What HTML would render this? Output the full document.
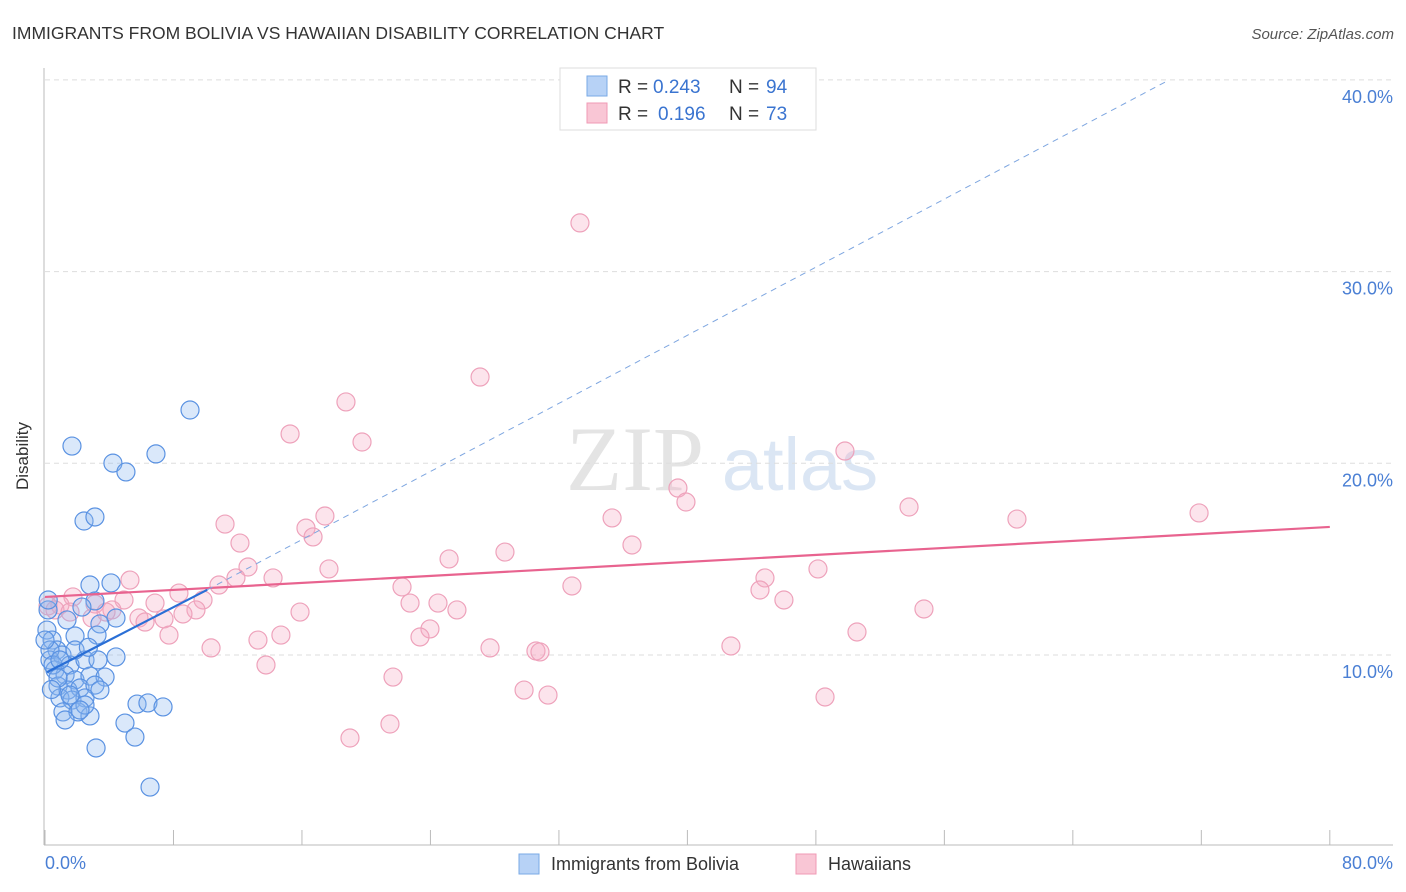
<!DOCTYPE html>
<html><head><meta charset="utf-8">
<style>
body{margin:0;background:#fff;font-family:"Liberation Sans",sans-serif;}
#wrap{position:relative;width:1406px;height:892px;overflow:hidden;}
</style></head>
<body>
<div id="wrap">
<svg id="chart" width="1406" height="892">
  <text x="12" y="39" font-size="17.5" fill="#333">IMMIGRANTS FROM BOLIVIA VS HAWAIIAN DISABILITY CORRELATION CHART</text>
  <text x="1394" y="39" font-size="15" fill="#555" font-style="italic" text-anchor="end">Source: ZipAtlas.com</text>
  <g>
    <text x="635" y="490" font-size="92" font-family="Liberation Serif,serif" fill="#e4e4e4" text-anchor="middle">ZIP</text>
    <text x="800" y="490" font-size="74" fill="#dbe6f4" text-anchor="middle">atlas</text>
  </g>
  <g id="grid"></g>
  <line x1="44" y1="68" x2="44" y2="845" stroke="#bbb"/>
  <line x1="44" y1="845" x2="1393" y2="845" stroke="#bbb"/>
  <g id="xticks"></g>
  <text x="28" y="456" font-size="17" fill="#333" text-anchor="middle" transform="rotate(-90 28 456)">Disability</text>
  <text x="45" y="869" font-size="18" fill="#4a7fd4">0.0%</text>
  <text x="1393" y="869" font-size="18" fill="#4a7fd4" text-anchor="end">80.0%</text>
  <g id="pink"></g>
  <g id="blue"></g>
  <g id="lines"></g>
  <g font-size="19">
    <rect x="560" y="68" width="256" height="62" fill="#fff" stroke="#ddd"/>
    <rect x="587" y="76" width="20" height="20" fill="#b7d2f6" stroke="#7aaae6"/>
    <rect x="587" y="103" width="20" height="20" fill="#f9c6d5" stroke="#f09ab5"/>
    <text x="618" y="93" fill="#333">R =</text>
    <text x="653" y="93" fill="#3a74d0">0.243</text>
    <text x="729" y="93" fill="#333">N =</text>
    <text x="766" y="93" fill="#3a74d0">94</text>
    <text x="618" y="120" fill="#333">R =</text>
    <text x="658" y="120" fill="#3a74d0">0.196</text>
    <text x="729" y="120" fill="#333">N =</text>
    <text x="766" y="120" fill="#3a74d0">73</text>
  </g>
  <g>
    <rect x="519" y="854" width="20" height="20" fill="#b7d2f6" stroke="#7aaae6"/>
    <text x="551" y="870" font-size="18" fill="#333">Immigrants from Bolivia</text>
    <rect x="796" y="854" width="20" height="20" fill="#f9c6d5" stroke="#f09ab5"/>
    <text x="828" y="870" font-size="18" fill="#333">Hawaiians</text>
  </g>
</svg>
</div>
<script>
const yTicks=[10,20,30,40];
const yTickLabels=["10.0%","20.0%","30.0%","40.0%"];
const xTicks=[0,8,16,24,32,40,48,56,64,72,80];
const blueX=[9.03,1.68,4.23,5.04,6.91,2.43,3.11,2.80,4.11,3.11,2.30,4.42,1.37,3.42,1.87,3.24,0.12,0.44,0.75,0.31,1.06,1.56,2.49,3.30,4.42,0.62,1.25,1.87,2.80,3.74,0.81,1.43,2.18,3.11,0.93,1.68,2.49,1.12,2.05,2.80,1.25,4.98,5.73,6.41,7.35,5.60,3.18,6.54,0.19,0.31,0.5,0.81,1.56,2.49,0,2.18,3.42,0.93,1.87,0.2,0.4,2.7];
const blueY=[22.78,20.90,20.01,19.55,20.49,16.99,17.20,13.65,13.76,12.82,12.50,11.93,11.83,11.62,10.99,11.04,11.30,10.78,10.26,9.74,10.0,9.48,9.74,9.74,9.90,9.22,8.96,8.70,8.90,8.85,8.38,8.17,8.28,8.43,7.76,7.65,7.76,7.03,7.03,6.82,6.61,6.45,7.44,7.50,7.29,5.72,5.15,3.11,12.35,10.26,9.48,8.8,7.91,7.39,10.78,7.13,8.17,9.74,10.26,12.87,8.2,10.4];
const pinkX=[33.31,27.09,18.74,15.26,19.74,49.81,39.41,39.91,53.80,60.52,71.86,11.21,17.43,16.25,16.69,12.14,36.55,35.31,28.64,25.16,17.68,12.64,5.29,11.89,14.20,10.83,8.34,22.23,32.81,44.83,48.13,44.52,46.01,22.73,24.47,25.65,15.88,9.84,9.40,8.59,6.85,4.92,3.11,1.74,0.93,0.19,4.17,2.93,5.85,7.41,6.23,7.72,10.34,13.26,14.69,23.97,23.35,27.71,30.57,30.82,42.71,50.56,54.73,13.76,21.67,29.83,31.32,48.57,21.48,18.99,0.62,1.56,3.80];
const pinkY=[32.54,24.50,23.20,21.53,21.11,20.64,18.71,17.98,17.72,17.09,17.41,16.83,17.25,16.62,16.16,15.84,15.74,17.15,15.37,15.01,14.49,14.59,13.91,14.02,14.02,13.65,13.23,13.55,13.60,14.02,14.49,13.39,12.87,12.71,12.71,12.35,12.24,12.87,12.35,12.14,12.71,12.87,12.66,13.03,12.61,12.56,12.35,11.93,11.93,11.88,11.72,11.04,10.37,10.78,11.04,11.36,10.94,10.37,10.21,10.16,10.47,11.20,12.40,9.48,8.85,8.17,7.91,7.81,6.40,5.67,12.35,12.24,12.24];
const blueTrendX=[0.12,10.1];
const blueTrendY=[9.1,13.4];
const blueDashX=[10.1,70.0];
const blueDashY=[13.4,40.0];
const pinkTrendX=[0,80];
const pinkTrendY=[13.03,16.68];

const NS="http://www.w3.org/2000/svg";
function X(v){return 45+v*16.06;}
function Y(v){return 655-(v-10)*19.17;}
function mk(tag,attrs,parent){const e=document.createElementNS(NS,tag);for(const k in attrs)e.setAttribute(k,attrs[k]);parent.appendChild(e);return e;}
const grid=document.getElementById('grid');
yTicks.forEach((t,i)=>{
  const l=mk('line',{x1:45,x2:1393,y1:Y(t),y2:Y(t),stroke:'#ddd','stroke-dasharray':'5,4'},grid);
  
  
  const tx=mk('text',{x:1393,y:Y(t)+23,'font-size':18,fill:'#4a7fd4','text-anchor':'end'},grid);
  tx.textContent=yTickLabels[i];
  
  
});
const xt=document.getElementById('xticks');
xTicks.forEach(t=>{
  const l=mk('line',{x1:X(t),x2:X(t),y1:830,y2:845,stroke:'#bbb'},xt);
  
  
});
const pg=document.getElementById('pink');
pinkX.forEach((x,i)=>{
  const c=mk('circle',{cx:X(x),cy:Y(pinkY[i]),r:9,fill:'rgba(246,170,196,0.32)',stroke:'#eea2bb','stroke-width':1.2},pg);
  
  
});
const bg=document.getElementById('blue');
blueX.forEach((x,i)=>{
  const c=mk('circle',{cx:X(x),cy:Y(blueY[i]),r:9,fill:'rgba(140,185,240,0.32)',stroke:'#5a92e2','stroke-width':1.2},bg);
  
  
});
const lg=document.getElementById('lines');
const l1=mk('line',{x1:X(pinkTrendX[0]),y1:Y(pinkTrendY[0]),x2:X(pinkTrendX[1]),y2:Y(pinkTrendY[1]),stroke:'#e8638f','stroke-width':2.2},lg);


const l2=mk('line',{x1:X(blueDashX[0]),y1:Y(blueDashY[0]),x2:X(blueDashX[1]),y2:Y(blueDashY[1]),stroke:'#7ea6e0','stroke-width':1,'stroke-dasharray':'6,5'},lg);


const l3=mk('line',{x1:X(blueTrendX[0]),y1:Y(blueTrendY[0]),x2:X(blueTrendX[1]),y2:Y(blueTrendY[1]),stroke:'#2a6fd6','stroke-width':2.2},lg);


</script>
</body></html>
